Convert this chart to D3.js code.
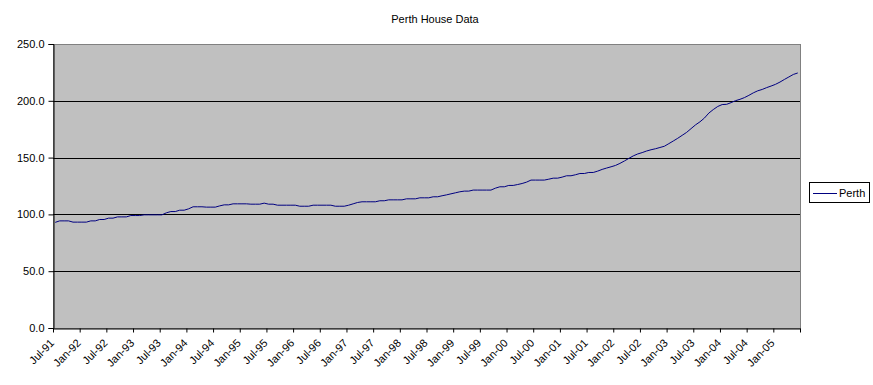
<html>
<meta charset="utf-8" />
<head>
<title>Perth House Data</title>
<style>
body {
  margin: 0;
  background: #fff;
}
svg text {
  font-family: "Liberation Sans", Arial, sans-serif;
  font-size: 11px;
  fill: black;
}
</style>
<script src="https://cdn.jsdelivr.net/npm/d3@7"></script>
</head>
<body>
<svg class="chart"></svg>

<script>
var chartWidth = 873;
var chartHeight = 385;

/********
 * Data *
 ********/

var seriesName = "Perth";

// monthly index, Jul-91 .. Jun-05
var perthValues = [
  93.0, 94.3, 94.3, 94.3, 93.2, 93.2, 93.2, 93.2, 94.3, 94.3,
  95.5, 95.5, 96.7, 96.7, 97.8, 97.8, 97.8, 99.0, 99.0, 99.0,
  99.6, 99.6, 99.6, 99.6, 99.6, 101.4, 102.5, 102.5, 103.7, 103.7,
  104.9, 106.7, 106.7, 106.7, 106.4, 106.4, 106.4, 107.5, 108.4, 108.4,
  109.3, 109.3, 109.3, 109.3, 109.0, 109.0, 109.0, 109.9, 109.0, 109.0,
  108.1, 108.1, 108.1, 108.1, 108.1, 107.2, 107.2, 107.2, 108.1, 108.1,
  108.1, 108.1, 108.1, 107.2, 107.2, 107.2, 108.1, 109.3, 110.5, 111.1,
  111.1, 111.1, 111.1, 112.0, 112.0, 112.8, 112.8, 112.8, 112.8, 113.7,
  113.7, 113.7, 114.6, 114.6, 114.6, 115.5, 115.5, 116.4, 117.2, 118.1,
  119.0, 119.9, 120.5, 120.5, 121.4, 121.4, 121.4, 121.4, 121.4, 123.1,
  124.3, 124.3, 125.5, 125.5, 126.3, 127.2, 128.4, 130.2, 130.2, 130.2,
  130.2, 131.0, 131.9, 131.9, 132.8, 134.0, 134.0, 134.9, 136.0, 136.0,
  136.9, 136.9, 138.1, 139.6, 140.8, 141.9, 143.1, 144.9, 147.0, 149.3,
  151.5, 153.2, 154.4, 155.8, 156.9, 157.8, 158.9, 160.0, 162.3, 164.6,
  167.0, 169.6, 172.2, 175.5, 178.8, 181.5, 184.8, 189.2, 192.3, 195.0,
  196.7, 196.9, 198.4, 200.1, 201.3, 202.8, 204.8, 207.0, 208.8, 210.0,
  211.6, 213.0, 214.5, 216.5, 218.8, 221.0, 223.2, 224.5
];

// one label every 6 months
var tickLabels = [
  "Jul-91", "Jan-92", "Jul-92", "Jan-93", "Jul-93", "Jan-94", "Jul-94",
  "Jan-95", "Jul-95", "Jan-96", "Jul-96", "Jan-97", "Jul-97", "Jan-98",
  "Jul-98", "Jan-99", "Jul-99", "Jan-00", "Jul-00", "Jan-01", "Jul-01",
  "Jan-02", "Jul-02", "Jan-03", "Jul-03", "Jan-04", "Jul-04", "Jan-05"
];
var labelStep = 6;

var yTicks = [0, 50, 100, 150, 200, 250];

/**********
 * Scales *
 **********/
var x, y;

var plot = { left: 53, right: 800, top: 44, bottom: 328 };

function makeChart(values) {

  // category boundaries: 0 .. n
  x = d3.scaleLinear()
      .domain([0, values.length])
      .range([plot.left, plot.right]);

  y = d3.scaleLinear()
      .domain([0, 250])
      .range([plot.bottom, plot.top]);

  var svg = d3.select(".chart")
      .attr("width", chartWidth)
      .attr("height", chartHeight);

  // plot area
  svg.append("rect")
      .attr("x", plot.left)
      .attr("y", plot.top)
      .attr("width", plot.right - plot.left)
      .attr("height", plot.bottom - plot.top)
      .attr("fill", "#c0c0c0")
      .attr("stroke", "#808080")
      .attr("stroke-width", 1)
      .attr("shape-rendering", "crispEdges");

  // gridlines
  svg.append("g").selectAll("line")
      .data(yTicks.filter(function(d){ return d > 0 && d < 250; }))
      .enter().append("line")
      .attr("x1", plot.left)
      .attr("x2", plot.right)
      .attr("y1", function(d){ return Math.round(y(d)) + 0.5; })
      .attr("y2", function(d){ return Math.round(y(d)) + 0.5; })
      .attr("stroke", "black")
      .attr("stroke-width", 1);

  // y axis
  var yAxis = d3.axisLeft(y)
      .tickValues(yTicks)
      .tickFormat(d3.format(".1f"))
      .tickSize(5)
      .tickPadding(4);

  var yg = svg.append("g")
      .attr("transform", "translate(" + (plot.left + 0.5) + ",0)")
      .call(yAxis);
  yg.select(".domain").attr("stroke", "black");
  yg.selectAll("text").style("font-size", "11px").attr("fill", "black");

  // x axis, tick marks between categories
  var xAxis = d3.axisBottom(x)
      .tickValues(d3.range(0, values.length + 1, labelStep))
      .tickFormat("")
      .tickSize(4)
      .tickSizeOuter(0);

  var xg = svg.append("g")
      .attr("transform", "translate(0," + (plot.bottom + 0.5) + ")")
      .call(xAxis);
  xg.select(".domain").attr("stroke", "black");

  svg.append("g").selectAll("text")
      .data(tickLabels)
      .enter().append("text")
      .attr("transform", function(d, i){
        return "translate(" + (x(i * labelStep + 0.5) - 3) + "," + (plot.bottom + 13) + ") rotate(-45)";
      })
      .attr("text-anchor", "end")
      .attr("dy", "0.35em")
      .text(function(d){ return d; });

  // the line
  var line = d3.line()
      .x(function(d, i){ return x(i + 0.5); })
      .y(function(d){ return y(d); });

  svg.append("path")
      .datum(values)
      .attr("fill", "none")
      .attr("stroke", "#000080")
      .attr("stroke-width", 1)
      .attr("d", line);

  // title
  svg.append("text")
      .attr("x", 435)
      .attr("y", 23)
      .attr("text-anchor", "middle")
      .text("Perth House Data");

  // legend
  var legend = svg.append("g");
  legend.append("rect")
      .attr("x", 809.5)
      .attr("y", 182.5)
      .attr("width", 60)
      .attr("height", 20)
      .attr("fill", "white")
      .attr("stroke", "black")
      .attr("stroke-width", 1);
  legend.append("line")
      .attr("x1", 813)
      .attr("x2", 837)
      .attr("y1", 193.5)
      .attr("y2", 193.5)
      .attr("stroke", "#000080");
  legend.append("text")
      .attr("x", 839)
      .attr("y", 197)
      .text(seriesName);
}

makeChart(perthValues);

</script>
</body>
</html>
